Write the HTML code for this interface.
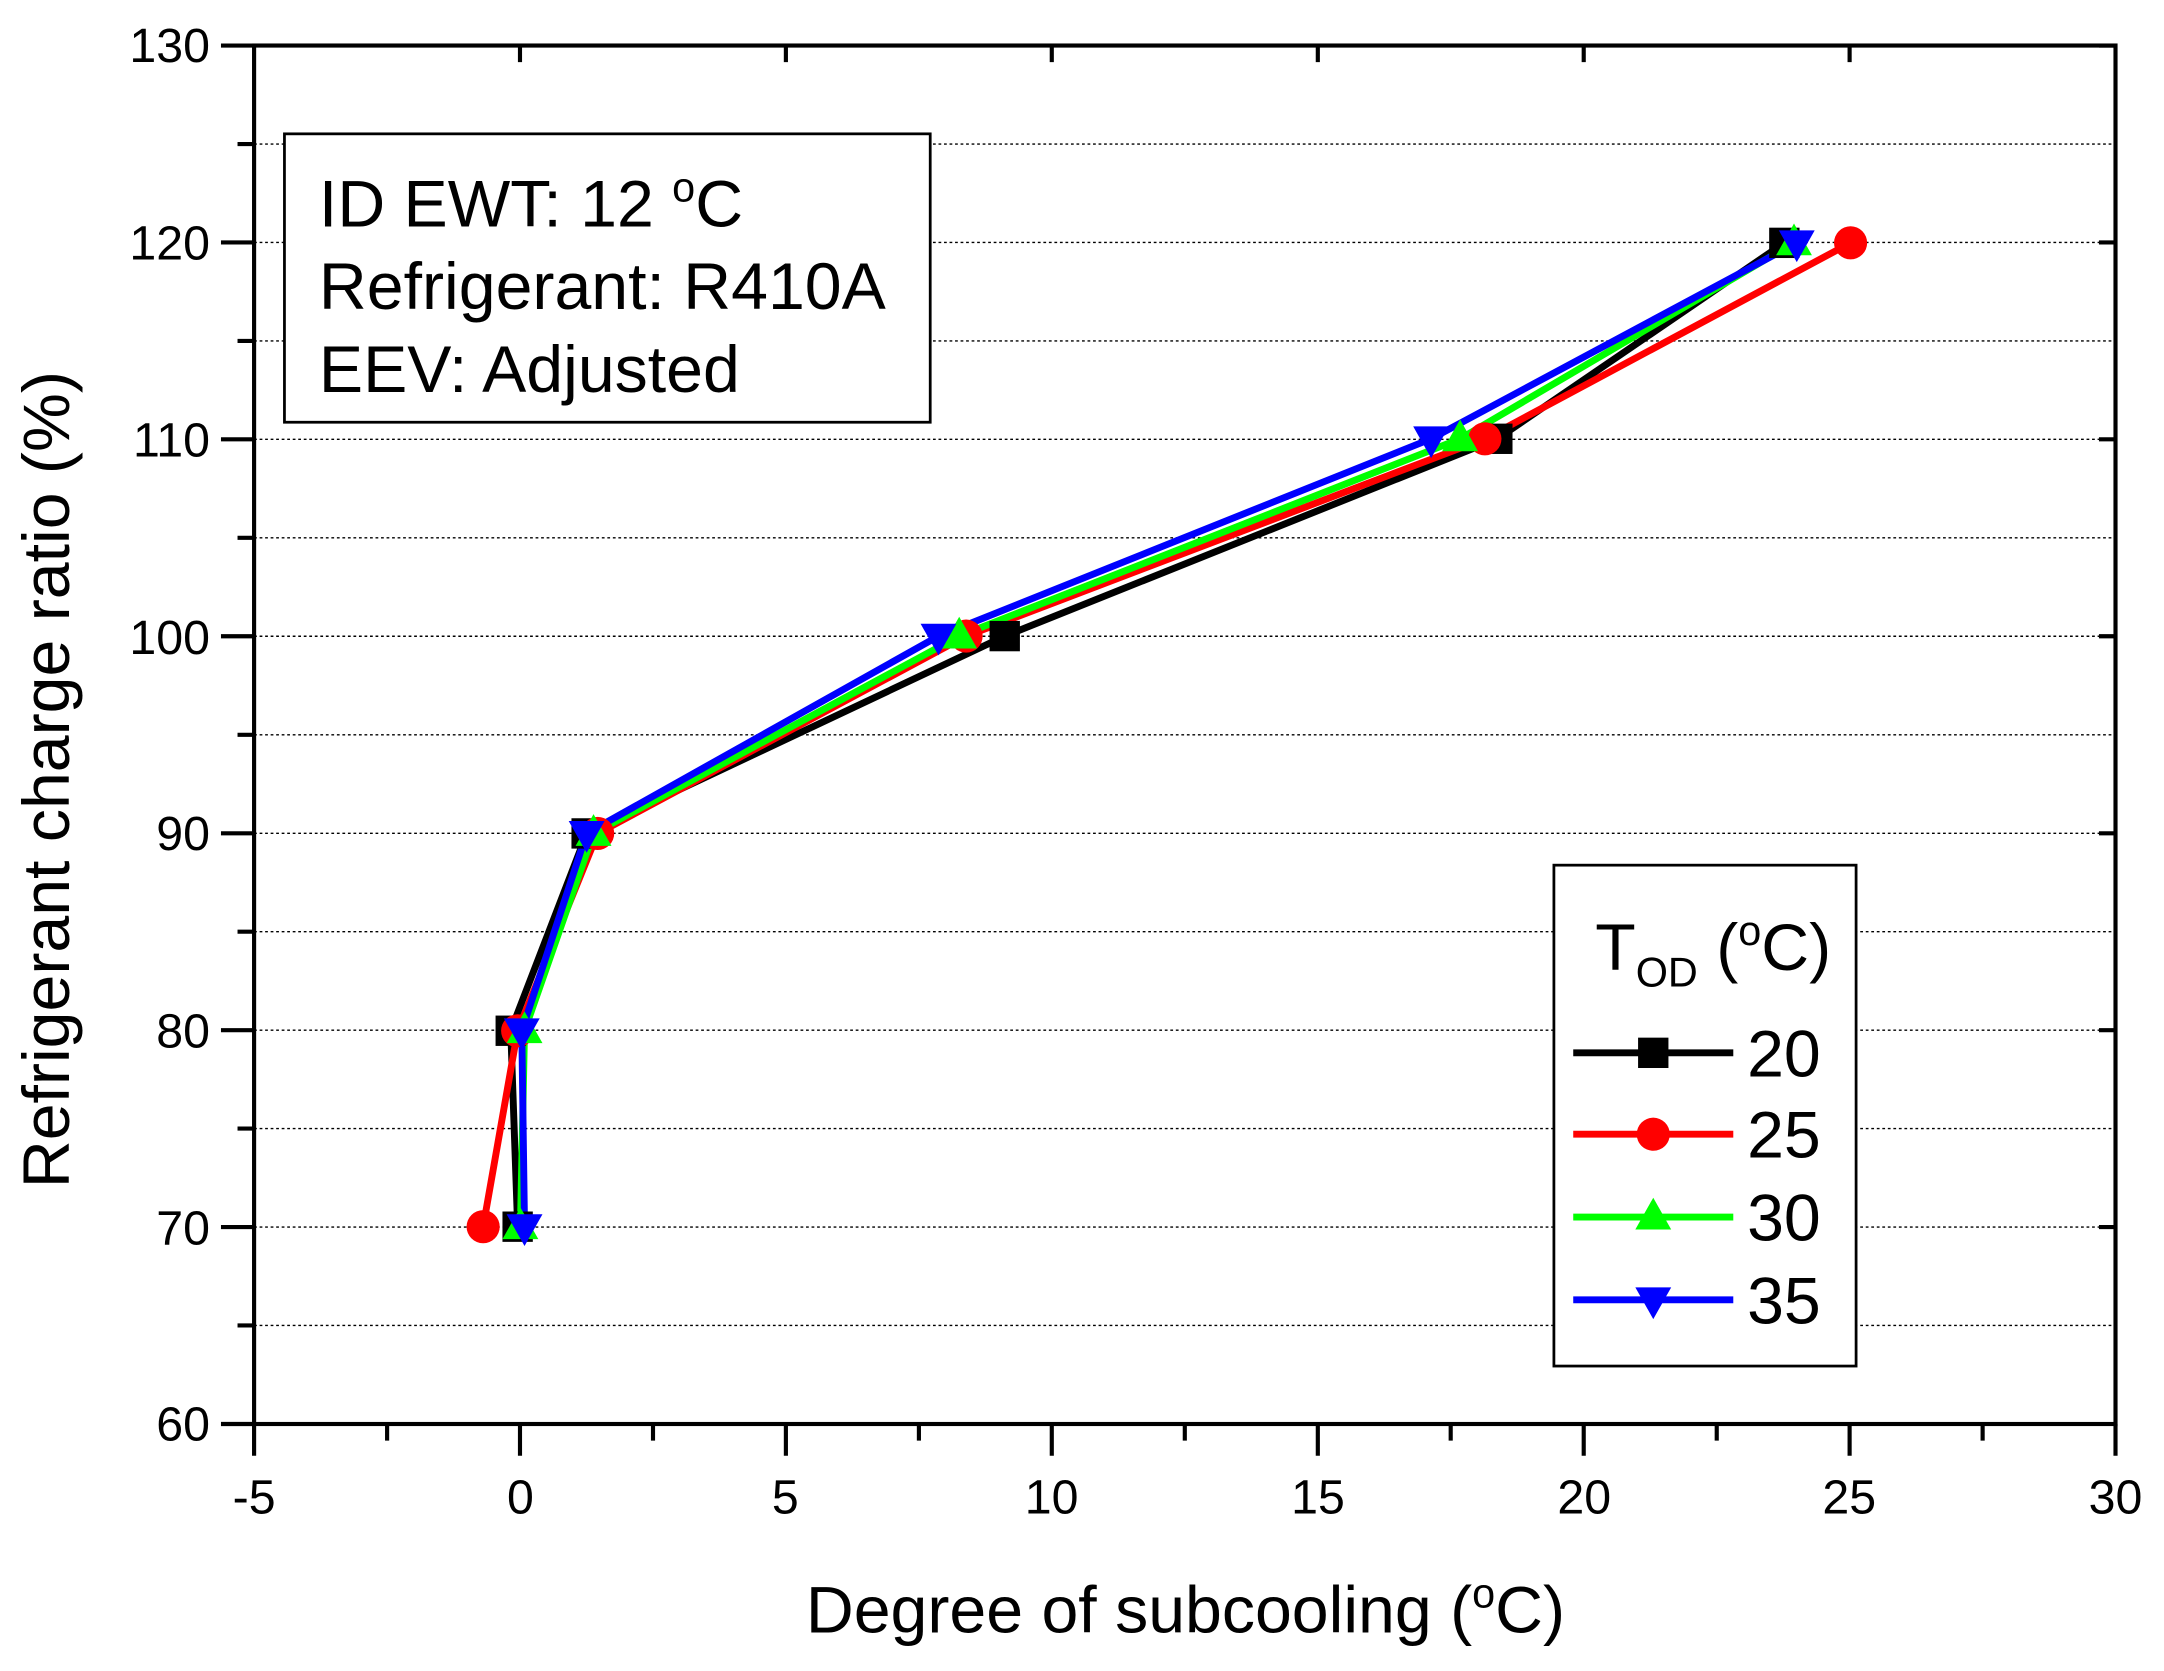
<!DOCTYPE html>
<html><head><style>body{margin:0;background:#fff}svg{display:block}</style></head><body>
<svg width="2164" height="1671" viewBox="0 0 1568 1211" xmlns="http://www.w3.org/2000/svg" font-family="Liberation Sans, Arial, sans-serif">
<rect width="1568" height="1211" fill="#fff"/>
<g stroke="#000" stroke-width="1" stroke-dasharray="2,2">
<line x1="184" x2="1533" y1="104.4" y2="104.4"/><line x1="184" x2="1533" y1="175.7" y2="175.7"/>
<line x1="184" x2="1533" y1="247.1" y2="247.1"/><line x1="184" x2="1533" y1="318.4" y2="318.4"/>
<line x1="184" x2="1533" y1="389.8" y2="389.8"/><line x1="184" x2="1533" y1="461.1" y2="461.1"/>
<line x1="184" x2="1533" y1="532.5" y2="532.5"/><line x1="184" x2="1533" y1="603.9" y2="603.9"/>
<line x1="184" x2="1533" y1="675.2" y2="675.2"/><line x1="184" x2="1533" y1="746.6" y2="746.6"/>
<line x1="184" x2="1533" y1="817.9" y2="817.9"/><line x1="184" x2="1533" y1="889.3" y2="889.3"/>
<line x1="184" x2="1533" y1="960.6" y2="960.6"/>
</g>
<rect x="184" y="33" width="1349" height="999" fill="none" stroke="#000" stroke-width="3"/>
<g stroke="#000" stroke-width="3">
<path d="M160 33H184M160 175.7H184M160 318.4H184M160 461.1H184M160 603.9H184M160 746.6H184M160 889.3H184M160 1032H184"/>
<path d="M172 104.4H184M172 247.1H184M172 389.8H184M172 532.5H184M172 675.2H184M172 817.9H184M172 960.6H184"/>
<path d="M1533 33H1521M1533 175.7H1521M1533 318.4H1521M1533 461.1H1521M1533 603.9H1521M1533 746.6H1521M1533 889.3H1521"/>
<path d="M184 1032V1055M376.7 1032V1055M569.4 1032V1055M762.1 1032V1055M954.9 1032V1055M1147.6 1032V1055M1340.3 1032V1055M1533 1032V1055"/>
<path d="M280.4 1032V1044M473.1 1032V1044M665.8 1032V1044M858.5 1032V1044M1051.2 1032V1044M1244 1032V1044M1436.7 1032V1044"/>
<path d="M376.7 33V45M569.4 33V45M762.1 33V45M954.9 33V45M1147.6 33V45M1340.3 33V45"/>
</g>
<g font-size="35" text-anchor="end">
<text x="152" y="45">130</text><text x="152" y="188">120</text><text x="152" y="331">110</text><text x="152" y="474">100</text>
<text x="152" y="616">90</text><text x="152" y="759">80</text><text x="152" y="902">70</text><text x="152" y="1044">60</text>
</g>
<g font-size="35" text-anchor="middle">
<text x="184" y="1097">-5</text><text x="377" y="1097">0</text><text x="569" y="1097">5</text><text x="762" y="1097">10</text>
<text x="955" y="1097">15</text><text x="1148" y="1097">20</text><text x="1340" y="1097">25</text><text x="1533" y="1097">30</text>
</g>
<text x="859" y="1183" font-size="48" text-anchor="middle">Degree of subcooling (<tspan dy="-18" font-size="30">o</tspan><tspan dy="18">C)</tspan></text>
<text transform="translate(50,565) rotate(-90)" font-size="48" text-anchor="middle">Refrigerant charge ratio (%)</text>
<g fill="none" stroke-width="5" stroke-linejoin="round">
<polyline stroke="#000" points="375,889 370,747 425,604 728,461 1085,318 1293,176"/>
<polyline stroke="#f00" points="350,889 375,747 433,604 700,461 1076,318 1341,176"/>
<polyline stroke="#0f0" points="377,889 380,747 430,604 695,461 1058,318 1300,176"/>
<polyline stroke="#00f" points="380,889 378,747 425,604 680,461 1037,318 1302,176"/>
</g>
<g fill="#000"><rect x="364" y="878" width="22" height="22"/><rect x="359" y="736" width="22" height="22"/><rect x="414" y="593" width="22" height="22"/><rect x="717" y="450" width="22" height="22"/><rect x="1074" y="307" width="22" height="22"/><rect x="1282" y="165" width="22" height="22"/></g>
<g fill="#f00"><circle cx="350" cy="889" r="12"/><circle cx="375" cy="747" r="12"/><circle cx="433" cy="604" r="12"/><circle cx="700" cy="461" r="12"/><circle cx="1076" cy="318" r="12"/><circle cx="1341" cy="176" r="12"/></g>
<g fill="#0f0"><path d="M377 875l13 23h-26z"/><path d="M380 733l13 23h-26z"/><path d="M430 590l13 23h-26z"/><path d="M695 447l13 23h-26z"/><path d="M1058 304l13 23h-26z"/><path d="M1300 162l13 23h-26z"/></g>
<g fill="#00f"><path d="M380 903l13-23h-26z"/><path d="M378 761l13-23h-26z"/><path d="M425 618l13-23h-26z"/><path d="M680 475l13-23h-26z"/><path d="M1037 332l13-23h-26z"/><path d="M1302 190l13-23h-26z"/></g>
<rect x="206" y="97" width="468" height="209" fill="#fff" stroke="#000" stroke-width="2"/>
<g font-size="48"><text x="231" y="164">ID EWT: 12 <tspan dy="-18" font-size="30">o</tspan><tspan dy="18">C</tspan></text>
<text x="231" y="224">Refrigerant: R410A</text><text x="231" y="284">EEV: Adjusted</text></g>
<rect x="1126" y="627" width="219" height="363" fill="#fff" stroke="#000" stroke-width="2"/>
<text x="1156" y="703" font-size="48">T<tspan dy="12" font-size="30">OD</tspan><tspan dy="-12"> (</tspan><tspan dy="-18" font-size="30">o</tspan><tspan dy="18">C)</tspan></text>
<g stroke-width="5"><line x1="1140" x2="1256" y1="763" y2="763" stroke="#000"/><line x1="1140" x2="1256" y1="822" y2="822" stroke="#f00"/><line x1="1140" x2="1256" y1="882" y2="882" stroke="#0f0"/><line x1="1140" x2="1256" y1="942" y2="942" stroke="#00f"/></g>
<rect x="1187" y="752" width="22" height="22"/><circle cx="1198" cy="822" r="12" fill="#f00"/><path d="M1198 868l13 23h-26z" fill="#0f0"/><path d="M1198 956l13-23h-26z" fill="#00f"/>
<g font-size="48"><text x="1266" y="780">20</text><text x="1266" y="839">25</text><text x="1266" y="899">30</text><text x="1266" y="959">35</text></g>
</svg>
</body></html>
